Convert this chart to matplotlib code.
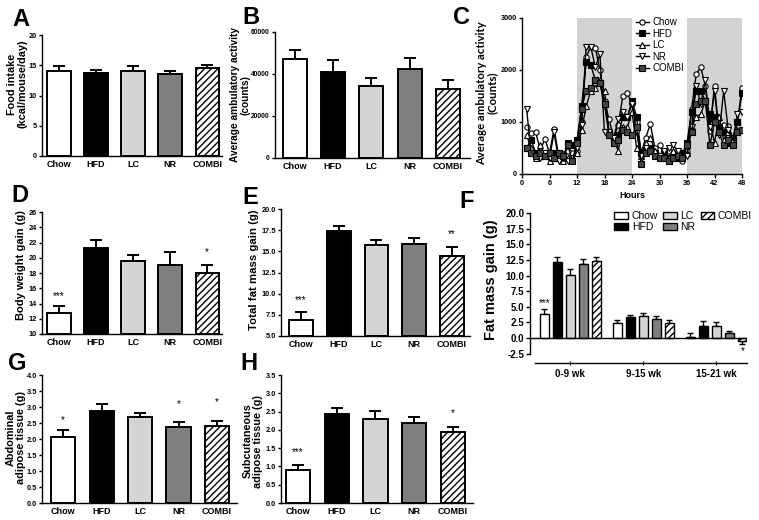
import matplotlib
matplotlib.use("Agg")
import matplotlib.pyplot as plt
import numpy as np

plt.rcParams['font.family'] = ['Liberation Sans', 'DejaVu Sans']
plt.rcParams['hatch.linewidth'] = 1.0

W, H = 759, 520

groups = ['Chow', 'HFD', 'LC', 'NR', 'COMBI']
bar_colors = ['white', 'black', '#d4d4d4', '#7f7f7f', 'white']
bar_hatch = [None, None, None, None, '/////']

# A - food intake
food_mean = [14.0, 13.8, 14.1, 13.6, 14.5]
food_sem = [0.85, 0.4, 0.8, 0.4, 0.5]
# B - average ambulatory activity
act_mean = [47000, 41000, 34300, 42200, 32700]
act_sem = [4200, 5500, 3700, 5600, 4500]
# D - body weight gain
bw_mean = [12.7, 21.3, 19.6, 19.1, 18.0]
bw_sem = [1.0, 1.0, 0.8, 1.6, 1.1]
# E - total fat mass gain
fat_mean = [6.9, 17.4, 15.7, 15.9, 14.4]
fat_sem = [0.9, 0.6, 0.6, 0.7, 1.1]
# G - abdominal adipose tissue
abd_mean = [2.07, 2.88, 2.68, 2.37, 2.42]
abd_sem = [0.22, 0.2, 0.14, 0.16, 0.13]
# H - subcutaneous adipose tissue
sub_mean = [0.91, 2.43, 2.31, 2.18, 1.94]
sub_sem = [0.12, 0.17, 0.2, 0.18, 0.14]

# F - fat mass gain per period
periods = ['0-9 wk', '9-15 wk', '15-21 wk']
fm_mean = {
    'Chow': [3.9, 2.4, 0.2],
    'HFD': [12.2, 3.3, 1.9],
    'LC': [10.1, 3.5, 1.9],
    'NR': [11.8, 3.1, 0.8],
    'COMBI': [12.3, 2.4, -0.4],
}
fm_sem = {
    'Chow': [0.8, 0.45, 0.6],
    'HFD': [0.8, 0.4, 0.8],
    'LC': [1.0, 0.5, 0.6],
    'NR': [0.8, 0.5, 0.3],
    'COMBI': [0.6, 0.45, 0.5],
}

# C - hourly activity
hours = np.arange(1, 49)
act_chow = [900, 780, 800, 450, 680, 400, 870, 350, 380, 450, 500, 450,
            1000, 2250, 2450, 2420, 2000, 1400, 1050, 700, 950, 1500, 1550, 1350,
            1000, 400, 700, 960, 500, 550, 400, 450, 400, 450, 250, 450,
            1250, 1920, 2050, 1700, 820, 1700, 800, 950, 930, 700, 1000, 1650]
act_hfd = [500, 650, 400, 350, 400, 350, 400, 350, 300, 600, 550, 650,
           1300, 2150, 2100, 1800, 1750, 1350, 800, 700, 750, 1100, 1100, 1400,
           1100, 400, 450, 500, 400, 350, 400, 300, 350, 300, 400, 600,
           1200, 1600, 1600, 1400, 1150, 1100, 900, 800, 600, 650, 1000, 1550]
act_lc = [750, 500, 300, 550, 350, 250, 300, 300, 250, 300, 300, 400,
          850, 1300, 1600, 1650, 1800, 1600, 800, 650, 450, 900, 900, 1200,
          500, 350, 600, 700, 450, 350, 350, 300, 450, 400, 300, 400,
          900, 1100, 1150, 1400, 1000, 600, 1100, 650, 800, 600, 850, 850]
act_nr = [1250, 400, 350, 300, 400, 300, 800, 250, 300, 250, 300, 500,
          950, 2450, 2450, 2050, 2300, 800, 800, 700, 1050, 1200, 1100, 1350,
          800, 350, 500, 450, 350, 350, 450, 500, 550, 450, 300, 350,
          900, 1700, 1350, 1800, 900, 1600, 750, 1600, 850, 600, 1150, 1200]
act_combi = [500, 400, 350, 400, 350, 400, 300, 400, 350, 550, 250, 600,
             1250, 1600, 1650, 1800, 1750, 1350, 750, 600, 650, 850, 800, 750,
             900, 200, 400, 450, 350, 300, 300, 250, 300, 350, 300, 550,
             800, 1350, 1400, 1400, 550, 1000, 800, 550, 650, 550, 800, 850]
dark_periods = [(12, 24), (36, 48)]

fig = plt.figure(figsize=(W / 100, H / 100), dpi=100)


def axes_px(left, top, right, bottom):
    return fig.add_axes([left / W, 1 - bottom / H, (right - left) / W, (bottom - top) / H])


def style_axes(ax, tick_size=5.3):
    for s in ['top', 'right']:
        ax.spines[s].set_visible(False)
    for s in ['left', 'bottom']:
        ax.spines[s].set_linewidth(1.0)
    ax.tick_params(axis='y', length=2.5, width=1.0, labelsize=tick_size, pad=1.2)
    for lab in ax.get_yticklabels():
        lab.set_fontweight('bold')


def ylabel_px(x, y, text, size=8, family=None):
    kw = {}
    if family:
        kw['family'] = family
    fig.text(x / W, 1 - y / H, text, rotation=90, ha='center', va='center',
             fontsize=size, fontweight='bold', multialignment='center',
             linespacing=1.05, **kw)


def letter_px(x, y, text):
    fig.text(x / W, 1 - y / H, text, ha='center', va='center', fontsize=17, fontweight='bold')


def bar_panel(box, means, sems, ylim, yticks, xlim, fmt='{:g}', stars=(), tick_size=5.3):
    ax = axes_px(*box)
    x = np.arange(len(groups))
    lo = ylim[0]
    for i in x:
        ax.errorbar(i, means[i], yerr=[[0], [sems[i]]], fmt='none', ecolor='black',
                    elinewidth=1.4, capsize=4.2, capthick=1.4, zorder=1)
        ax.bar(i, means[i] - lo, bottom=lo, width=0.63, color=bar_colors[i],
               edgecolor='black', linewidth=1.4, hatch=bar_hatch[i], zorder=2)
    ax.set_ylim(*ylim)
    ax.set_xlim(*xlim)
    ax.set_yticks(yticks)
    ax.set_yticklabels([fmt.format(t) for t in yticks])
    ax.set_xticks(x)
    ax.set_xticklabels(groups, fontsize=6.5, fontweight='bold')
    ax.tick_params(axis='x', length=0, pad=3)
    style_axes(ax, tick_size)
    for i, s, y in stars:
        ax.text(i, y, s, ha='center', va='center', fontsize=7)
    return ax


# A
bar_panel((42, 35, 222, 156), food_mean, food_sem, (0, 20), [0, 5, 10, 15, 20], (-0.46, 4.4))
letter_px(21, 20, 'A')
ylabel_px(17, 84, 'Food intake\n(kcal/mouse/day)', size=7.8)

# B
bar_panel((275, 32, 470, 158), act_mean, act_sem, (0, 60000), [0, 20000, 40000, 60000], (-0.52, 4.58),
          tick_size=4.8)
letter_px(251, 17, 'B')
ylabel_px(240, 95, 'Average ambulatory activity\n(counts)', size=7.3)

# C
axc = axes_px(522, 18, 742, 174)
for a, b in dark_periods:
    axc.axvspan(a, b, ymin=0, ymax=1, color='#d3d3d3', lw=0, zorder=0)
c_series = [
    ('Chow', act_chow, 'o', 'white'),
    ('HFD', act_hfd, 's', 'black'),
    ('LC', act_lc, '^', 'white'),
    ('NR', act_nr, 'v', 'white'),
    ('COMBI', act_combi, 's', '#444444'),
]
for name, vals, mk, fc in c_series:
    axc.plot(hours, vals, color='black', lw=1.0, marker=mk, markersize=3.8,
             markerfacecolor=fc, markeredgecolor='black', markeredgewidth=0.8, label=name, zorder=3)
axc.set_xlim(0, 48)
axc.set_ylim(0, 3000)
axc.set_xticks(np.arange(0, 49, 6))
axc.set_yticks([0, 1000, 2000, 3000])
axc.tick_params(axis='x', length=3, width=1.0, labelsize=5.3, pad=1.5)
style_axes(axc)
for lab in axc.get_xticklabels():
    lab.set_fontweight('bold')
axc.set_xlabel('Hours', fontsize=6.5, fontweight='bold', labelpad=3)
axc.legend(loc='upper left', bbox_to_anchor=(0.5, 1.03), frameon=False, fontsize=7,
           handlelength=1.3, handletextpad=0.4, labelspacing=0.15, borderaxespad=0)
letter_px(461, 17, 'C')
ylabel_px(487, 93, 'Average ambulatory activity\n(Counts)', size=8.2, family=['Lato', 'DejaVu Sans'])

# D
bar_panel((42, 212, 222, 334), bw_mean, bw_sem, (10, 26), list(range(10, 27, 2)), (-0.46, 4.4),
          stars=[(0, '***', 15.0), (4, '*', 20.8)])
letter_px(20, 196, 'D')
ylabel_px(21, 265, 'Body weight gain (g)', size=8)

# E
bar_panel((281, 209, 470, 336), fat_mean, fat_sem, (5, 20), [5, 7.5, 10, 12.5, 15, 17.5, 20], (-0.53, 4.48),
          fmt='{:.1f}', stars=[(0, '***', 9.3), (4, '**', 17.0)])
letter_px(250, 198, 'E')
ylabel_px(254, 270, 'Total fat mass gain (g)', size=8.2)

# F
axf = axes_px(530, 213, 747, 363)
gx = np.arange(len(periods))
offsets = np.linspace(-0.356, 0.356, 5)
for k, g in enumerate(groups):
    m = np.array(fm_mean[g])
    s = np.array(fm_sem[g])
    up = np.where(m >= 0, s, 0)
    down = np.where(m < 0, s, 0)
    axf.errorbar(gx + offsets[k], m, yerr=[down, up], fmt='none', ecolor='black',
                 elinewidth=1.0, capsize=2.5, capthick=1.0, zorder=1)
    axf.bar(gx + offsets[k], m, width=0.125, color=bar_colors[k], edgecolor='black',
            linewidth=1.0, hatch=bar_hatch[k], label=g, zorder=2)
axf.axhline(0, color='black', lw=1.0, zorder=3)
axf.set_ylim(-4, 20)
axf.set_xlim(-0.55, 2.42)
axf.spines['left'].set_bounds(-2.5, 20)
axf.spines['bottom'].set_bounds(-0.48, 2.42)
fticks = np.arange(-2.5, 20.1, 2.5)
axf.set_yticks(fticks)
axf.set_yticklabels(['{:.1f}'.format(t) for t in fticks])
axf.set_xticks(gx)
axf.set_xticklabels(periods, fontsize=7, fontweight='bold')
style_axes(axf)
axf.tick_params(axis='y', labelsize=7, length=3)
for lab in axf.get_yticklabels():
    lab.set_fontweight('bold')
axf.tick_params(axis='x', length=3, direction='inout', pad=3)
axf.text(offsets[0], 5.6, '***', ha='center', va='center', fontsize=7)
axf.text(2 + offsets[4], -2.1, '*', ha='center', va='center', fontsize=7)
axf.legend(loc='upper left', bbox_to_anchor=(0.37, 1.04), ncol=3, frameon=False, fontsize=7.5,
           handlelength=1.3, handleheight=0.7, handletextpad=0.35, columnspacing=0.5,
           labelspacing=0.1, borderaxespad=0)
letter_px(467, 202, 'F')
ylabel_px(491, 280, 'Fat mass gain (g)', size=10.5)

# G
bar_panel((42, 375, 237, 503), abd_mean, abd_sem, (0, 4), np.arange(0, 4.01, 0.5), (-0.55, 4.52),
          fmt='{:.1f}', stars=[(0, '*', 2.6), (3, '*', 3.1), (4, '*', 3.15)])
letter_px(17, 364, 'G')
ylabel_px(16, 438, 'Abdominal\nadipose tissue (g)', size=7.8)

# H
bar_panel((281, 375, 473, 503), sub_mean, sub_sem, (0, 3.5), np.arange(0, 3.51, 0.5), (-0.44, 4.52),
          fmt='{:.1f}', stars=[(0, '***', 1.4), (4, '*', 2.45)])
letter_px(249, 364, 'H')
ylabel_px(253, 441, 'Subcutaneous\nadipose tissue (g)', size=7.8)

fig.savefig('out.png', dpi=100)
